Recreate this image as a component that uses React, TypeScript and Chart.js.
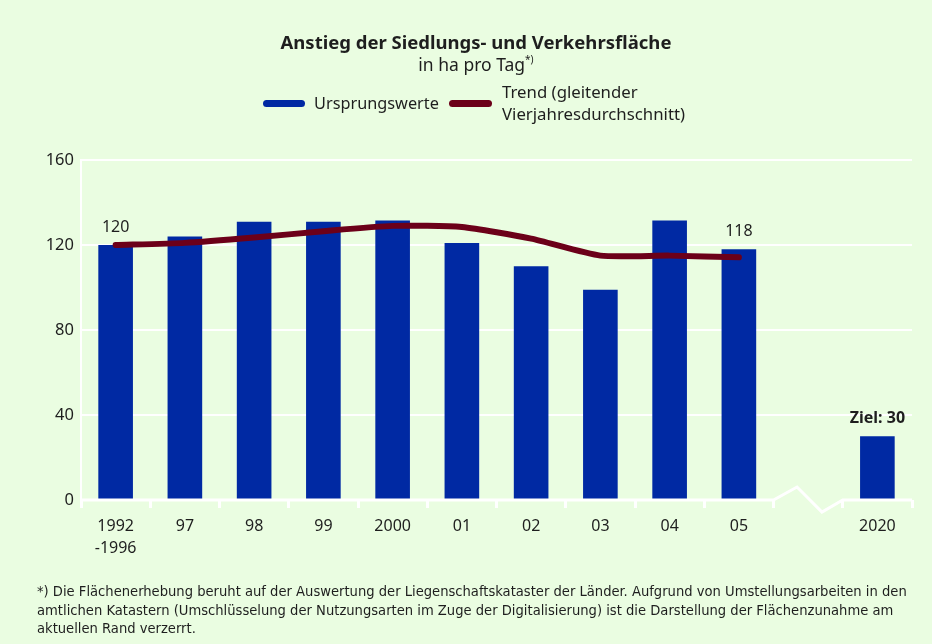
import React, { useEffect, useRef } from "react";
import { Chart, registerables } from "chart.js";

Chart.register(...registerables);

const categories: (string | string[])[] = [
  ["1992", "-1996"], "97", "98", "99", "2000", "01", "02", "03", "04", "05", "", "2020",
];
const barValues: (number | null)[] = [120, 124, 131, 131, 131.5, 121, 110, 99, 131.5, 118, null, 30];
const trendValues: (number | null)[] = [120, 121, 123.5, 126.5, 129, 128.5, 123, 115, 115, 114.2, null, null];
const valueLabels: (string | null)[] = ["120", null, null, null, null, null, null, null, null, "118", null, "Ziel: 30"];
const boldLabels: boolean[] = [false, false, false, false, false, false, false, false, false, false, false, true];
const yTicks: number[] = [0, 40, 80, 120, 160];
const breakIndex = 10;

const BG = "#eafde1";
const BAR = "#0029a3";
const LINE = "#6c0019";
const TEXT = "#1e1e1e";
const FONT = "'Noto Sans', 'Open Sans', sans-serif";

const overlayPlugin = {
  id: "overlay",
  afterDatasetsDraw(chart: any) {
    const ctx = chart.ctx;
    const x = chart.scales.x;
    const y = chart.scales.y;
    const y0 = y.getPixelForValue(0);
    const left = chart.chartArea.left;
    const right = chart.chartArea.right;
    const b1 = (x.getPixelForValue(breakIndex - 1) + x.getPixelForValue(breakIndex)) / 2;
    const b2 = (x.getPixelForValue(breakIndex) + x.getPixelForValue(breakIndex + 1)) / 2;
    const w = b2 - b1;
    ctx.save();
    ctx.strokeStyle = "#ffffff";
    ctx.lineWidth = 3;
    ctx.lineJoin = "miter";
    ctx.beginPath();
    ctx.moveTo(left - 1, y0);
    ctx.lineTo(b1, y0);
    ctx.lineTo(b1 + w * 0.34, y0 - 13);
    ctx.lineTo(b1 + w * 0.7, y0 + 12);
    ctx.lineTo(b2, y0);
    ctx.lineTo(right, y0);
    ctx.stroke();

    ctx.fillStyle = TEXT;
    ctx.textAlign = "center";
    ctx.textBaseline = "middle";
    valueLabels.forEach((lab, i) => {
      const v = barValues[i];
      if (!lab || v == null) return;
      ctx.font = `${boldLabels[i] ? "bold " : ""}16px ${FONT}`;
      ctx.fillText(lab, x.getPixelForValue(i), y.getPixelForValue(v) - 18);
    });
    ctx.restore();
  },
};

function ChartCanvas() {
  const ref = useRef<HTMLCanvasElement | null>(null);
  useEffect(() => {
    if (!ref.current) return;
    const chart = new Chart(ref.current, {
      type: "bar",
      data: {
        labels: categories,
        datasets: [
          {
            type: "line",
            label: "Trend",
            data: trendValues,
            borderColor: LINE,
            borderWidth: 6,
            borderCapStyle: "round",
            borderJoinStyle: "round",
            pointRadius: 0,
            tension: 0.2,
            order: 0,
          } as any,
          {
            type: "bar",
            label: "Ursprungswerte",
            data: barValues,
            backgroundColor: BAR,
            barPercentage: 0.5,
            categoryPercentage: 1.0,
            order: 1,
          },
        ],
      },
      options: {
        animation: false,
        responsive: false,
        maintainAspectRatio: false,
        layout: { padding: { left: 0, right: 20, top: 160, bottom: 74 } },
        plugins: { legend: { display: false }, tooltip: { enabled: false }, title: { display: false } },
        scales: {
          x: {
            offset: true,
            border: { display: false },
            grid: {
              offset: true,
              drawOnChartArea: false,
              drawTicks: true,
              tickLength: 8,
              tickColor: "#ffffff",
              tickWidth: 3,
            } as any,
            ticks: {
              color: TEXT,
              font: { family: FONT, size: 16, lineHeight: 1.375 },
              padding: 7,
              maxRotation: 0,
              autoSkip: false,
            },
            afterFit(scale: any) {
              scale.height = 70;
            },
          },
          y: {
            min: 0,
            max: 160,
            afterBuildTicks(scale: any) {
              scale.ticks = yTicks.map((v) => ({ value: v }));
            },
            border: { display: true, color: "#ffffff", width: 2 },
            grid: {
              color: (c: any) => (c.tick && c.tick.value === 0 ? "rgba(0,0,0,0)" : "#ffffff"),
              lineWidth: 2,
              drawTicks: false,
            },
            ticks: {
              color: TEXT,
              font: { family: FONT, size: 16.5 },
              padding: 7,
            },
            afterFit(scale: any) {
              scale.width = 81;
            },
          },
        },
      },
      plugins: [overlayPlugin],
    });
    return () => chart.destroy();
  }, []);
  return <canvas ref={ref} width={932} height={644} style={{ position: "absolute", left: 0, top: 0, width: 932, height: 644 }} />;
}

export default function App() {
  useEffect(() => {
    document.body.style.margin = "0";
  }, []);
  return (
    <div style={{ position: "fixed", left: 0, top: 0, width: 932, height: 644, background: BG, fontFamily: FONT, color: TEXT, overflow: "hidden" }}>
      <ChartCanvas />
      <div style={{ position: "absolute", left: 0, width: 952, top: 29, textAlign: "center", fontWeight: "bold", fontSize: 18.5, lineHeight: "26px" }}>
        Anstieg der Siedlungs- und Verkehrsfläche
      </div>
      <div style={{ position: "absolute", left: 0, width: 952, top: 52, textAlign: "center", fontSize: 17.5, lineHeight: "24px" }}>
        in ha pro Tag<sup style={{ fontSize: 10, verticalAlign: "top", lineHeight: "14px" }}>*)</sup>
      </div>
      <div style={{ position: "absolute", left: 263, top: 100, width: 42, height: 7, borderRadius: 3.5, background: BAR }} />
      <div style={{ position: "absolute", left: 314, top: 91, fontSize: 16.3, lineHeight: "24px" }}>Ursprungswerte</div>
      <div style={{ position: "absolute", left: 449, top: 100, width: 43, height: 7, borderRadius: 3.5, background: LINE }} />
      <div style={{ position: "absolute", left: 502, top: 81, fontSize: 16.8, lineHeight: "22px" }}>
        Trend (gleitender
        <br />
        Vierjahresdurchschnitt)
      </div>
      <div style={{ position: "absolute", left: 37, top: 582, width: 895, whiteSpace: "nowrap", fontFamily: "'Liberation Sans Narrow', 'DejaVu Sans Condensed', sans-serif", fontSize: 14.6, lineHeight: "18.5px" }}>
        *) Die Flächenerhebung beruht auf der Auswertung der Liegenschaftskataster der Länder. Aufgrund von Umstellungsarbeiten in den
        <br />
        amtlichen Katastern (Umschlüsselung der Nutzungsarten im Zuge der Digitalisierung) ist die Darstellung der Flächenzunahme am
        <br />
        aktuellen Rand verzerrt.
      </div>
    </div>
  );
}
